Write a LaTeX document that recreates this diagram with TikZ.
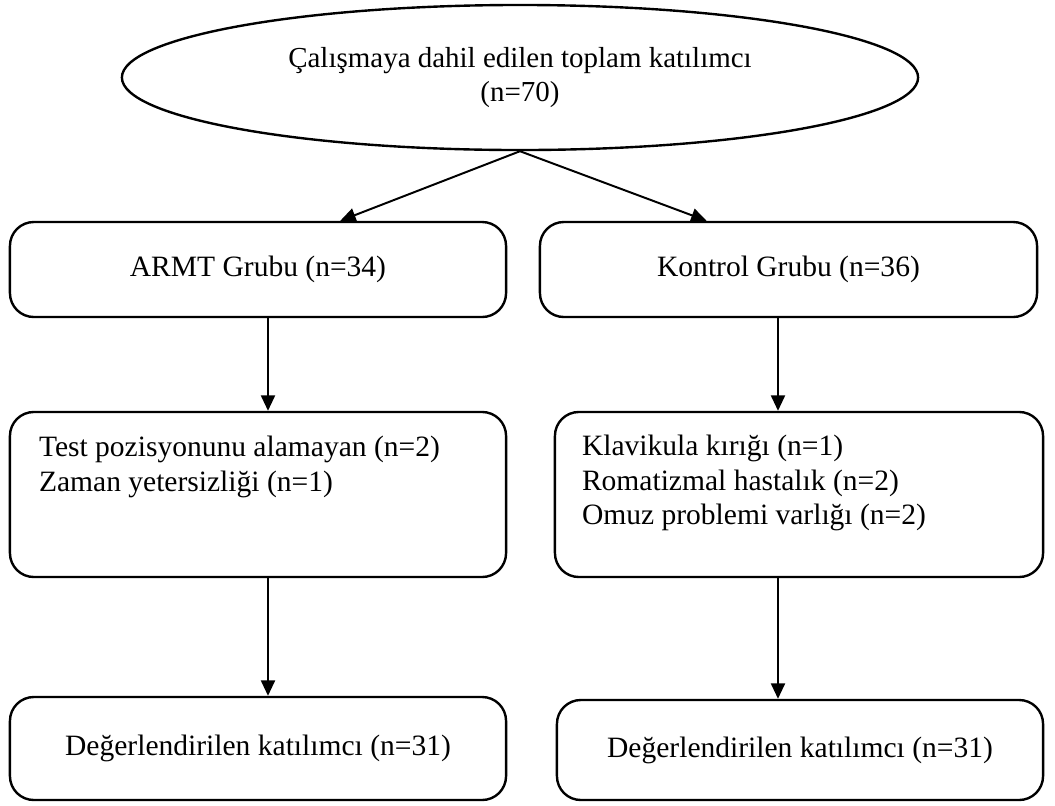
\documentclass[tikz,border=0pt]{standalone}
\usepackage{fontspec}
\setmainfont{Liberation Serif}
\usetikzlibrary{positioning, arrows.meta, shapes.geometric, calc}

\begin{document}
\begin{tikzpicture}[x=0.025cm, y=-0.025cm, >={Triangle[length=11pt, width=10pt]},
		box/.style={draw, line width=1.7pt, rectangle, rounded corners=17pt, inner sep=0pt, font=\fontsize{21}{24.5}\selectfont},
		txt/.style={inner sep=0pt, align=left, anchor=north west, font=\fontsize{21}{24.5}\selectfont},
		arr/.style={->, line width=1.4pt}]
			\useasboundingbox (0,0) rectangle (1055,805);
			\node (total) [draw, ellipse, line width=1.7pt, inner sep=0pt, minimum width=19.9cm, minimum height=3.625cm, align=center, font=\fontsize{20.6}{24.2}\selectfont] at (520,77.5) {Çalışmaya dahil edilen toplam katılımcı\\(n=70)};
			\node (armt) [box, minimum width=12.4cm, minimum height=2.375cm] at (258,269.5) {ARMT Grubu (n=34)};
			\node (kontrol) [box, minimum width=12.425cm, minimum height=2.375cm] at (788.5,269.5) {Kontrol Grubu (n=36)};
			\node (armtexc) [box, minimum width=12.4cm, minimum height=4.125cm] at (258,494.5) {};
			\node (kontrolexc) [box, minimum width=12.2cm, minimum height=4.125cm] at (799,494.5) {};
			\node (armteval) [box, minimum width=12.4cm, minimum height=2.575cm] at (258,748.5) {Değerlendirilen katılımcı (n=31)};
			\node (kontroleval) [box, minimum width=12.15cm, minimum height=2.5cm] at (800,750) {Değerlendirilen katılımcı (n=31)};
			% exclusion texts
			\node (armtexctxt) [txt] at ($(armtexc.north west)+(30,25)$) {Test pozisyonunu alamayan (n=2)\\Zaman yetersizliği (n=1)};
			\node (kontrolexctxt) [txt] at ($(kontrolexc.north west)+(28,24)$) {Klavikula kırığı (n=1)\\Romatizmal hastalık (n=2)\\Omuz problemi varlığı (n=2)};
			% arrows
			\coordinate (lcol) at (268,0);
			\coordinate (rcol) at (778,0);
			\draw[arr] (total.south) -- ($(armt.north west)!0.665!(armt.north east)$);
			\draw[arr] (total.south) -- ($(kontrol.north west)!0.336!(kontrol.north east)$);
			\draw[arr] (lcol |- armt.south) -- (lcol |- armtexc.north);
			\draw[arr] (rcol |- kontrol.south) -- (rcol |- kontrolexc.north);
			\draw[arr] (lcol |- armtexc.south) -- (lcol |- armteval.north);
			\draw[arr] (rcol |- kontrolexc.south) -- (rcol |- kontroleval.north);
		\end{tikzpicture}
\end{document}
